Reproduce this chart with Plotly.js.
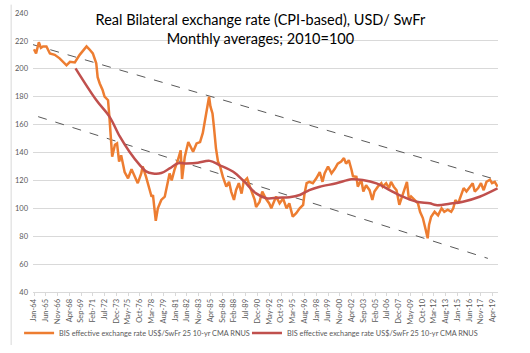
<!DOCTYPE html>
<html>
<head>
<meta charset="utf-8">
<script src="https://cdn.plot.ly/plotly-3.0.1.min.js"></script>
<style>html,body{margin:0;padding:0;background:#fff;}#chart{width:530px;height:353px;}</style>
</head>
<body>
<div id="chart"></div>
<script>
// ---- Data ----
const spotDates = ["1964-01","1964-04","1964-08","1964-11","1965-02","1965-07","1965-12","1966-07","1967-02","1967-07","1967-12","1968-05","1968-12","1969-07","1969-12","1970-05","1970-09","1971-02","1971-07","1971-09","1971-12","1972-04","1972-07","1972-12","1973-02","1973-04","1973-06","1973-10","1974-01","1974-04","1974-07","1974-12","1975-05","1975-10","1976-03","1976-07","1976-12","1977-02","1977-07","1977-11","1978-03","1978-05","1978-09","1978-12","1979-05","1979-10","1980-03","1980-05","1980-08","1980-12","1981-05","1981-09","1981-11","1982-03","1982-08","1982-10","1983-03","1983-08","1984-01","1984-05","1984-08","1984-10","1985-01","1985-02","1985-04","1985-07","1985-09","1985-12","1986-03","1986-06","1986-10","1987-03","1987-07","1987-10","1988-02","1988-05","1988-09","1989-01","1989-04","1989-09","1990-01","1990-05","1990-08","1990-10","1991-03","1991-07","1991-12","1992-05","1992-08","1992-10","1993-03","1993-08","1994-01","1994-06","1994-10","1995-03","1995-08","1996-01","1996-06","1996-08","1996-11","1997-03","1997-08","1998-01","1998-06","1998-10","1999-01","1999-06","1999-11","2000-04","2000-08","2001-01","2001-05","2001-08","2001-12","2002-04","2002-06","2002-11","2003-01","2003-06","2003-09","2004-01","2004-06","2004-10","2005-01","2005-06","2005-11","2006-01","2006-06","2006-10","2007-01","2007-05","2007-09","2008-01","2008-05","2008-09","2008-12","2009-03","2009-06","2009-11","2010-04","2010-07","2010-11","2011-03","2011-06","2011-08","2011-11","2012-04","2012-09","2013-02","2013-06","2013-11","2014-04","2014-07","2014-10","2015-02","2015-07","2015-10","2016-02","2016-07","2016-11","2017-02","2017-07","2017-11","2018-03","2018-07","2018-12","2019-03","2019-07","2019-11"];
const spotValues = [214,211,219,215,216,216,211,210,207.5,205,202.5,205,204.5,210,213,216,214,211,204,194,189.5,185,180,177.5,165,149,137,145.5,146.5,133.5,138,126,121.5,128,122.5,118,125,130,122.5,115.5,108.3,109.5,91,100,106,108.3,120,125,120,127.5,134.5,141.5,121,137,147.5,145.5,140.5,146.5,147.5,154,163,167,175,180,173,168,158.5,143,133.5,130,122.5,115.5,119,112,106,113,118,110.5,119,121.5,115.5,110.5,106,101,104.5,112,107,103.5,100,102.5,108.5,103.5,107,100,103.5,94,96.5,100,102.5,110.5,118,119,118,121.5,126,119,125,130,125,128.5,132,133.5,136,132,134.5,127.5,123,122.5,115.5,120.5,112,116.5,113,106,112,115.5,118,115.5,118,114.5,119,115.5,113,102.5,108.5,113,119,106,108.5,106,103.5,97.5,93,85,78.5,88,94,97.5,95,100,97.5,99,97.5,100,106,103.5,109.5,114.5,112,115.5,118,112,114.5,118,113,119,120.5,118,119,115.5];

const cmaDates = ["1969-01","1971-07","1973-02","1974-05","1975-07","1976-10","1977-07","1978-05","1979-05","1980-05","1981-05","1982-05","1983-10","1985-03","1986-05","1988-01","1989-05","1990-10","1992-01","1993-06","1994-10","1996-01","1997-03","1998-06","2000-06","2002-04","2003-08","2005-04","2006-11","2008-06","2010-02","2011-09","2012-06","2014-06","2015-09","2017-09","2019-11"];
const cmaValues = [200.3,177.6,165.7,151.5,140.6,131,126.5,125,125.3,128.6,132.2,132.2,132.7,134,131,126.2,119.1,110.7,107.2,107.6,107.9,109.5,113.1,115.5,117.9,120.8,120.3,117.9,113.1,108.3,104.7,103.6,102.3,103.6,104.7,108.3,114.3];

const upperTrendDates = ["1963-11-18","2019-11-20"];
const upperTrendValues = [217.3, 120.2];
const lowerTrendDates = ["1964-07","2018-09"];
const lowerTrendValues = [165.7, 64.1];

const xTickLabels = ["Jan-64","Jun-65","Nov-66","Apr-68","Sep-69","Feb-71","Jul-72","Dec-73","May-75","Oct-76","Mar-78","Aug-79","Jan-81","Jun-82","Nov-83","Apr-85","Sep-86","Feb-88","Jul-89","Dec-90","May-92","Oct-93","Mar-95","Aug-96","Jan-98","Jun-99","Nov-00","Apr-02","Sep-03","Feb-05","Jul-06","Dec-07","May-09","Oct-10","Mar-12","Aug-13","Jan-15","Jun-16","Nov-17","Apr-19"];
const yTickValues = [40,60,80,100,120,140,160,180,200,220,240];

const seriesName = "BIS effective exchange rate US$/SwFr 25 10-yr CMA RNUS";
const titleText = "Real Bilateral exchange rate (CPI-based), USD/ SwFr<br>Monthly averages; 2010=100";

// ---- Build tick positions from the labels ----
const MONTHS = ["Jan","Feb","Mar","Apr","May","Jun","Jul","Aug","Sep","Oct","Nov","Dec"];
const xTickVals = xTickLabels.map(function (s) {
  const parts = s.split("-");
  const mi = MONTHS.indexOf(parts[0]) + 1;
  const yy = parseInt(parts[1], 10);
  const year = yy >= 50 ? 1900 + yy : 2000 + yy;
  return year + "-" + (mi < 10 ? "0" + mi : mi) + "-01";
});

const FONT = "Lato, 'Open Sans', sans-serif";

const traces = [
  {x: upperTrendDates, y: upperTrendValues, type: "scatter", mode: "lines",
   line: {color: "#595959", width: 1, dash: "dash"}, showlegend: false, hoverinfo: "skip"},
  {x: lowerTrendDates, y: lowerTrendValues, type: "scatter", mode: "lines",
   line: {color: "#595959", width: 1, dash: "dash"}, showlegend: false, hoverinfo: "skip"},
  {x: spotDates, y: spotValues, type: "scatter", mode: "lines", name: seriesName,
   line: {color: "#ED7D31", width: 2.5}, legend: "legend"},
  {x: cmaDates, y: cmaValues, type: "scatter", mode: "lines", name: seriesName,
   line: {color: "#C0504D", width: 2.5, shape: "spline", smoothing: 1}, legend: "legend2"}
];

const legendFont = {family: FONT, size: 7.3, color: "#595959"};
const layout = {
  width: 530, height: 353,
  margin: {l: 33, r: 32, t: 13, b: 61, autoexpand: false},
  paper_bgcolor: "#ffffff", plot_bgcolor: "#ffffff",
  font: {family: FONT, color: "#595959", size: 8},
  showlegend: true,
  title: {text: titleText, x: 0.489, xanchor: "center", xref: "paper", yref: "container", y: 0.93, yanchor: "top",
          font: {family: FONT, size: 14.5, color: "#000000"}},
  xaxis: {type: "date", range: ["1963-11-18", "2019-11-20"],
          tickvals: xTickVals, ticktext: xTickLabels, tickangle: -90,
          tickfont: {family: FONT, size: 7.5, color: "#595959"},
          showgrid: false, zeroline: false, showline: true, linecolor: "#d9d9d9", linewidth: 1,
          ticks: "outside", ticklen: 3, tickcolor: "#d9d9d9", automargin: false},
  yaxis: {range: [40, 240], tickvals: yTickValues, ticks: "", automargin: false,
          tickfont: {family: FONT, size: 7.5, color: "#595959"},
          gridcolor: "#d9d9d9", gridwidth: 1, zeroline: false, showline: false, ticklabelstandoff: 4},
  legend: {orientation: "h", xref: "container", yref: "container", x: 0.036, xanchor: "left",
           y: 0.057, yanchor: "middle", font: legendFont, itemwidth: 30, bgcolor: "rgba(0,0,0,0)"},
  legend2: {orientation: "h", xref: "container", yref: "container", x: 0.466, xanchor: "left",
           y: 0.057, yanchor: "middle", font: legendFont, itemwidth: 30, bgcolor: "rgba(0,0,0,0)"},
  shapes: [{type: "line", xref: "paper", yref: "paper", x0: -0.047, x1: -0.047, y0: -0.19, y1: 1.03,
            line: {color: "#d9d9d9", width: 1}}]
};

Plotly.newPlot("chart", traces, layout, {displayModeBar: false, staticPlot: true});
</script>
</body>
</html>
